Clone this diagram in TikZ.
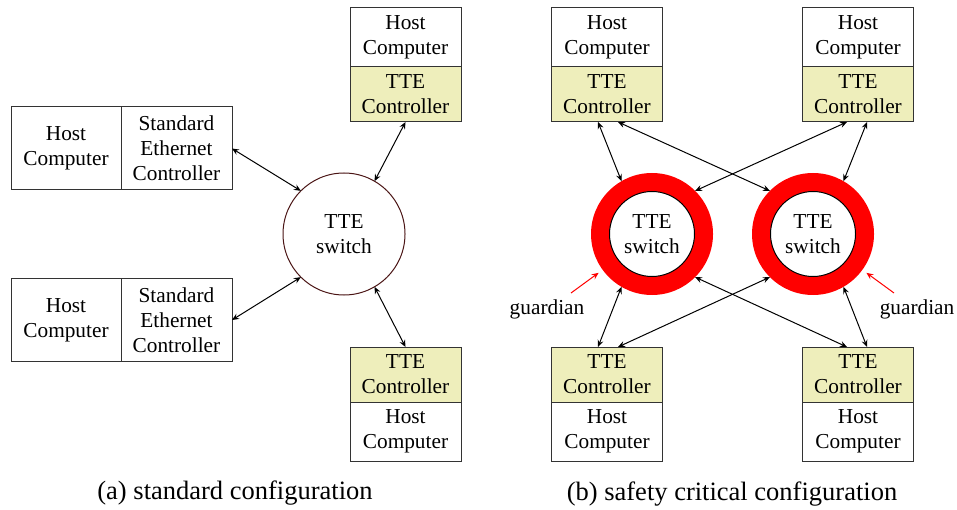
\documentclass[tikz,border=0pt]{standalone}
\usepackage{fontspec}
\setmainfont{Liberation Serif}
\usetikzlibrary{arrows.meta}
\definecolor{tteyellow}{HTML}{EEEEBB}
\definecolor{boxline}{HTML}{333333}
\definecolor{switchline}{HTML}{4A1414}
\begin{document}
\begin{tikzpicture}[x=1pt,y=-1pt,
  font=\fontsize{21.3}{25}\selectfont,
  every node/.style={outer sep=0pt, inner sep=0pt},
  hostbox/.style={draw=boxline, line width=1pt, fill=white, align=center,
    minimum width=111pt},
  ttebox/.style={hostbox, fill=tteyellow},
  link/.style={line width=1pt, {Stealth[length=7pt,width=6pt,inset=2.5pt]}-{Stealth[length=7pt,width=6pt,inset=2.5pt]}},
  guard/.style={red, line width=1pt, -{Stealth[length=7pt,width=6pt,inset=2.5pt]}},
  ring/.style={circle, fill=red, minimum size=122pt},
  core/.style={circle, draw=black, line width=1pt, fill=white, minimum size=85pt, align=center},
  caption/.style={font=\fontsize{26.5}{30}\selectfont}]
\useasboundingbox (0,0) rectangle (957,510);

% ---------- (a) standard configuration ----------
\node[hostbox, minimum width=110pt, minimum height=83pt] (h1) at (66,148.5) {Host\\Computer};
\node[hostbox, minimum height=83pt] (e1) at (176.5,148.5) {Standard\\Ethernet\\Controller};
\node[hostbox, minimum width=110pt, minimum height=83pt] (h2) at (66,320) {Host\\Computer};
\node[hostbox, minimum height=83pt] (e2) at (176.5,320) {Standard\\Ethernet\\Controller};

\node[hostbox, minimum height=59pt] (ah1) at (405.5,37.5) {Host\\Computer};
\node[ttebox, minimum height=55pt] (at1) at (405.5,94.5) {TTE\\Controller};
\node[ttebox, minimum height=55pt] (at2) at (405.5,374.5) {TTE\\Controller};
\node[hostbox, minimum height=59pt] (ah2) at (405.5,431.5) {Host\\Computer};

\node[circle, draw=switchline, line width=1pt, minimum size=122pt, align=center] (sw) at (344,234) {TTE\\switch};

\draw[link] (e1.east) -- (sw.135);
\draw[link] (e2.east) -- (sw.225);
\draw[link] (at1.south) -- (sw.60);
\draw[link] (at2.north) -- (sw.300);

\node[caption] (capa) at (235,493) {(a) standard configuration};

% ---------- (b) safety critical configuration ----------
\node[hostbox, minimum height=59pt] (bh1) at (607,37.5) {Host\\Computer};
\node[ttebox, minimum height=55pt] (bt1) at (607,94.5) {TTE\\Controller};
\node[hostbox, minimum height=59pt] (bh2) at (858,37.5) {Host\\Computer};
\node[ttebox, minimum height=55pt] (bt2) at (858,94.5) {TTE\\Controller};
\node[ttebox, minimum height=55pt] (bt3) at (607,374.5) {TTE\\Controller};
\node[hostbox, minimum height=59pt] (bh3) at (607,431.5) {Host\\Computer};
\node[ttebox, minimum height=55pt] (bt4) at (858,374.5) {TTE\\Controller};
\node[hostbox, minimum height=59pt] (bh4) at (858,431.5) {Host\\Computer};

\node[ring] (rl) at (652,234) {};
\node[core] (cl) at (rl.center) {TTE\\switch};
\node[ring] (rr) at (813,234) {};
\node[core] (cr) at (rr.center) {TTE\\switch};

\draw[link] ([xshift=-9pt]bt1.south) -- (rl.120);
\draw[link] ([xshift=11pt]bt1.south) -- (rr.135);
\draw[link] ([xshift=-11pt]bt2.south) -- (rl.45);
\draw[link] ([xshift=9pt]bt2.south) -- (rr.60);
\draw[link] ([xshift=-9pt]bt3.north) -- (rl.240);
\draw[link] ([xshift=11pt]bt3.north) -- (rr.225);
\draw[link] ([xshift=-11pt]bt4.north) -- (rl.315);
\draw[link] ([xshift=9pt]bt4.north) -- (rr.300);

\node (gl) at (547,309) {guardian};
\node (gr) at (917,309) {guardian};
\coordinate (glt) at ([shift={(24,-16)}]gl.center);
\coordinate (grt) at ([shift={(-23,-16)}]gr.center);
\draw[guard, shorten >=5pt] (glt) -- (rl.216);
\draw[guard, shorten >=5pt] (grt) -- (rr.324);

\node[caption] (capb) at (732,494) {(b) safety critical configuration};
\end{tikzpicture}
\end{document}
